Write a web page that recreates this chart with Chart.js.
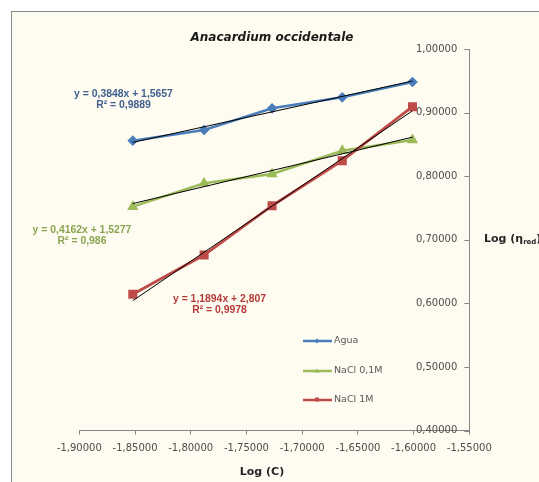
<!DOCTYPE html>
<html>
<head>
<meta charset="utf-8">
<script src="https://cdn.jsdelivr.net/npm/chart.js@4.4.1/dist/chart.umd.min.js"></script>
<style>
	html, body { margin: 0; padding: 0; background: #fff; }
	canvas { display: block; }
</style>
</head>
<body>
<canvas id="myChart" width="539" height="482"></canvas>
<script>
// log(C), same concentrations for the three solvents
const logC = [-1.852, -1.788, -1.727, -1.664, -1.601]
// log(eta red)
const agua = [0.8558, 0.8726, 0.9067, 0.924, 0.9481]
const nacl01 = [0.752, 0.7888, 0.8034, 0.84, 0.8569]
const nacl1 = [0.6142, 0.676, 0.7535, 0.8243, 0.9092]
const seriesNames = ['Agua', 'NaCl 0,1M', 'NaCl 1M']
// trendlines as printed on the chart: [slope, intercept, R²]
const fitAgua = [0.3848, 1.5657, 0.9889]
const fitNacl01 = [0.4162, 1.5277, 0.986]
const fitNacl1 = [1.1894, 2.807, 0.9978]
// axis ticks
const xTickValues = [-1.9, -1.85, -1.8, -1.75, -1.7, -1.65, -1.6, -1.55]
const yTickValues = [0.4, 0.5, 0.6, 0.7, 0.8, 0.9, 1.0]

const blue = '#4a7ebb'
const green = '#9bbb59'
const red = '#be4b48'
const axisGray = '#868686'
const textGray = '#595959'

const toPoints = (ys) => logC.map((x, i) => ({ x: x, y: ys[i] }))
const trend = (fit) => {
	const x0 = logC[0]
	const x1 = logC[logC.length - 1]
	return [
		{ x: x0, y: fit[0] * x0 + fit[1] },
		{ x: x1, y: fit[0] * x1 + fit[1] },
	]
}
const comma = (n) => String(n).replace('.', ',')
const fmt5 = (v) => Number(v).toFixed(5).replace('.', ',')

const trendSet = (fit) => ({
	label: '',
	data: trend(fit),
	borderColor: '#000',
	borderWidth: 1,
	pointRadius: 0,
	order: 0,
})

// frame, texts, legend and the inward y tick marks
const decorations = {
	id: 'decorations',
	beforeDraw(chart) {
		const ctx = chart.ctx
		ctx.save()
		ctx.fillStyle = '#fff'
		ctx.fillRect(0, 0, chart.width, chart.height)
		ctx.fillStyle = '#fefbf0'
		ctx.fillRect(11, 11, chart.width, chart.height)
		ctx.strokeStyle = '#8a8a8a'
		ctx.lineWidth = 1
		ctx.strokeRect(11.5, 11.5, chart.width + 10, chart.height + 10)
		ctx.restore()
	},
	afterDraw(chart) {
		const ctx = chart.ctx
		const y = chart.scales.y
		ctx.save()

		// y tick marks point into the plot
		ctx.strokeStyle = axisGray
		ctx.lineWidth = 1
		y.ticks.forEach((t) => {
			const py = Math.round(y.getPixelForValue(t.value)) + 0.5
			ctx.beginPath()
			ctx.moveTo(y.left - 5, py)
			ctx.lineTo(y.left, py)
			ctx.stroke()
		})

		// title
		ctx.fillStyle = '#1a1a1a'
		ctx.textAlign = 'center'
		ctx.textBaseline = 'middle'
		ctx.font = 'italic bold 12px "DejaVu Sans"'
		ctx.fillText('Anacardium occidentale', 272, 38)

		// axis titles
		ctx.fillStyle = '#262626'
		ctx.font = 'bold 11px "DejaVu Sans"'
		ctx.fillText('Log (C)', 262, 472)
		ctx.textAlign = 'left'
		ctx.textBaseline = 'alphabetic'
		let px = 484
		ctx.fillText('Log (η', px, 242)
		px += ctx.measureText('Log (η').width
		ctx.font = 'bold 7px "DejaVu Sans"'
		ctx.fillText('red', px, 244)
		px += ctx.measureText('red').width
		ctx.font = 'bold 11px "DejaVu Sans"'
		ctx.fillText(')', px, 242)

		// trendline equations
		ctx.textAlign = 'center'
		ctx.textBaseline = 'middle'
		ctx.font = 'bold 10.4px "Liberation Sans"'
		const eqs = [
			[fitAgua, '#3f5f8f', 123.5, 94],
			[fitNacl01, '#8aa653', 82, 230],
			[fitNacl1, '#b53a3a', 219.5, 299],
		]
		eqs.forEach(([fit, color, cx, cy]) => {
			ctx.fillStyle = color
			ctx.fillText('y = ' + comma(fit[0]) + 'x + ' + comma(fit[1]), cx, cy)
			ctx.fillText('R² = ' + comma(fit[2]), cx, cy + 11)
		})

		// legend
		const rows = [341, 371, 400]
		const colors = [blue, green, red]
		const shapes = ['diamond', 'triangle', 'square']
		rows.forEach((ry, i) => {
			ctx.strokeStyle = colors[i]
			ctx.fillStyle = colors[i]
			ctx.lineWidth = 2.5
			ctx.beginPath()
			ctx.moveTo(303, ry)
			ctx.lineTo(332, ry)
			ctx.stroke()
			ctx.beginPath()
			if (shapes[i] === 'diamond') {
				ctx.moveTo(317, ry - 2.5)
				ctx.lineTo(319.5, ry)
				ctx.lineTo(317, ry + 2.5)
				ctx.lineTo(314.5, ry)
			} else if (shapes[i] === 'triangle') {
				ctx.moveTo(317, ry - 2.5)
				ctx.lineTo(319.5, ry + 1.5)
				ctx.lineTo(314.5, ry + 1.5)
			} else {
				ctx.rect(315, ry - 2.5, 4, 4)
			}
			ctx.fill()
			ctx.fillStyle = textGray
			ctx.font = '9.5px "DejaVu Sans"'
			ctx.textAlign = 'left'
			ctx.fillText(seriesNames[i], 334, ry)
		})
		ctx.restore()
	},
}

const ctx = document.getElementById('myChart').getContext('2d')
const myChart = new Chart(ctx, {
	type: 'line',
	data: {
		datasets: [
			{
				label: seriesNames[0],
				data: toPoints(agua),
				borderColor: blue,
				backgroundColor: blue,
				borderWidth: 2.5,
				pointStyle: 'rectRot',
				pointRadius: 3.6,
				order: 3,
			},
			{
				label: seriesNames[1],
				data: toPoints(nacl01),
				borderColor: green,
				backgroundColor: green,
				borderWidth: 2.5,
				pointStyle: 'triangle',
				pointRadius: 4,
				order: 2,
			},
			{
				label: seriesNames[2],
				data: toPoints(nacl1),
				borderColor: red,
				backgroundColor: red,
				borderWidth: 2.8,
				pointStyle: 'rect',
				pointRadius: 4.4,
				order: 1,
			},
			trendSet(fitAgua),
			trendSet(fitNacl01),
			trendSet(fitNacl1),
		],
	},
	options: {
		responsive: false,
		animation: false,
		devicePixelRatio: 1,
		layout: {
			padding: { left: 79.3, right: 68.7, top: 49, bottom: 27.5 },
		},
		plugins: {
			legend: { display: false },
			tooltip: { enabled: false },
		},
		scales: {
			x: {
				type: 'linear',
				min: xTickValues[0],
				max: xTickValues[xTickValues.length - 1],
				afterBuildTicks: (scale) => {
					scale.ticks = xTickValues.map((v) => ({ value: v }))
				},
				afterFit: (scale) => {
					scale.height = 24
				},
				grid: {
					drawOnChartArea: false,
					drawTicks: true,
					tickLength: 4,
					color: axisGray,
				},
				border: { color: axisGray },
				ticks: {
					padding: 8,
					maxRotation: 0,
					autoSkip: false,
					color: '#4d4d4d',
					font: { family: 'DejaVu Sans', size: 10 },
					callback: (v) => fmt5(v),
				},
			},
			y: {
				type: 'linear',
				position: 'right',
				min: yTickValues[0],
				max: yTickValues[yTickValues.length - 1],
				afterBuildTicks: (scale) => {
					scale.ticks = yTickValues.map((v) => ({ value: v }))
				},
				afterFit: (scale) => {
					scale.width = 1
				},
				grid: {
					drawOnChartArea: false,
					drawTicks: false,
				},
				border: { color: axisGray },
				ticks: {
					mirror: true,
					padding: -12,
					autoSkip: false,
					color: '#4d4d4d',
					font: { family: 'DejaVu Sans', size: 10 },
					callback: (v) => fmt5(v),
				},
			},
		},
	},
	plugins: [decorations],
})
</script>
</body>
</html>
